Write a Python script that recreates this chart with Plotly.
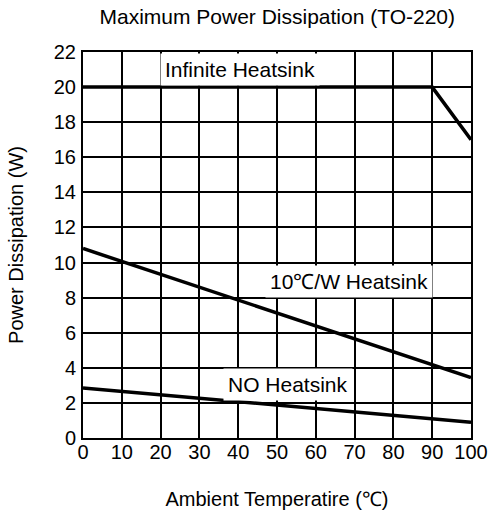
import plotly.graph_objects as go

# Data
temp_inf = [0, 90, 100]
p_inf = [20, 20, 17]
temp_10 = [0, 100]
p_10 = [10.8, 3.45]
temp_no = [0, 100]
p_no = [2.85, 0.9]

x_ticks = list(range(0, 101, 10))
y_ticks = list(range(0, 23, 2))

labels = ["Infinite Heatsink", "10℃/W Heatsink", "NO Heatsink"]
label_x = [40.4, 68.5, 52.9]
label_y = [21.0, 8.9, 3.05]

FONT = "Liberation Sans, Arial, sans-serif"

fig = go.Figure()
for xs, ys in [(temp_inf, p_inf), (temp_10, p_10), (temp_no, p_no)]:
    fig.add_trace(go.Scatter(x=xs, y=ys, mode="lines",
                             line=dict(color="black", width=3.5),
                             showlegend=False, hoverinfo="skip"))

for t, xv, yv in zip(labels, label_x, label_y):
    fig.add_annotation(x=xv, y=yv, xref="x", yref="y", text=t, showarrow=False,
                       bgcolor="white", borderpad=4,
                       font=dict(family=FONT, size=21, color="black"))

fig.update_layout(
    width=489, height=513,
    margin=dict(l=83, r=18, t=52, b=75, autoexpand=False),
    paper_bgcolor="white", plot_bgcolor="white",
    font=dict(family=FONT, size=20, color="black"),
    title=dict(text="Maximum Power Dissipation (TO-220)", x=0.567, xanchor="center",
               y=0.967, yanchor="middle", font=dict(size=21, family=FONT)),
    xaxis=dict(range=[0, 100], tickvals=x_ticks, showgrid=True, gridcolor="black",
               gridwidth=2, showline=True, linecolor="black", linewidth=2, mirror=True,
               zeroline=False, ticks="", ticklabelstandoff=-5, automargin=False,
               title=dict(text="Ambient Temperatire (℃)", standoff=30,
                          font=dict(size=20, family=FONT))),
    yaxis=dict(range=[0, 22], tickvals=y_ticks, showgrid=True, gridcolor="black",
               gridwidth=2, showline=True, linecolor="black", linewidth=2, mirror=True,
               zeroline=False, ticks="", ticklabelstandoff=1, automargin=False,
               title=dict(text="Power Dissipation (W)", standoff=25,
                          font=dict(size=20, family=FONT))),
)

fig.write_html("out.html")
